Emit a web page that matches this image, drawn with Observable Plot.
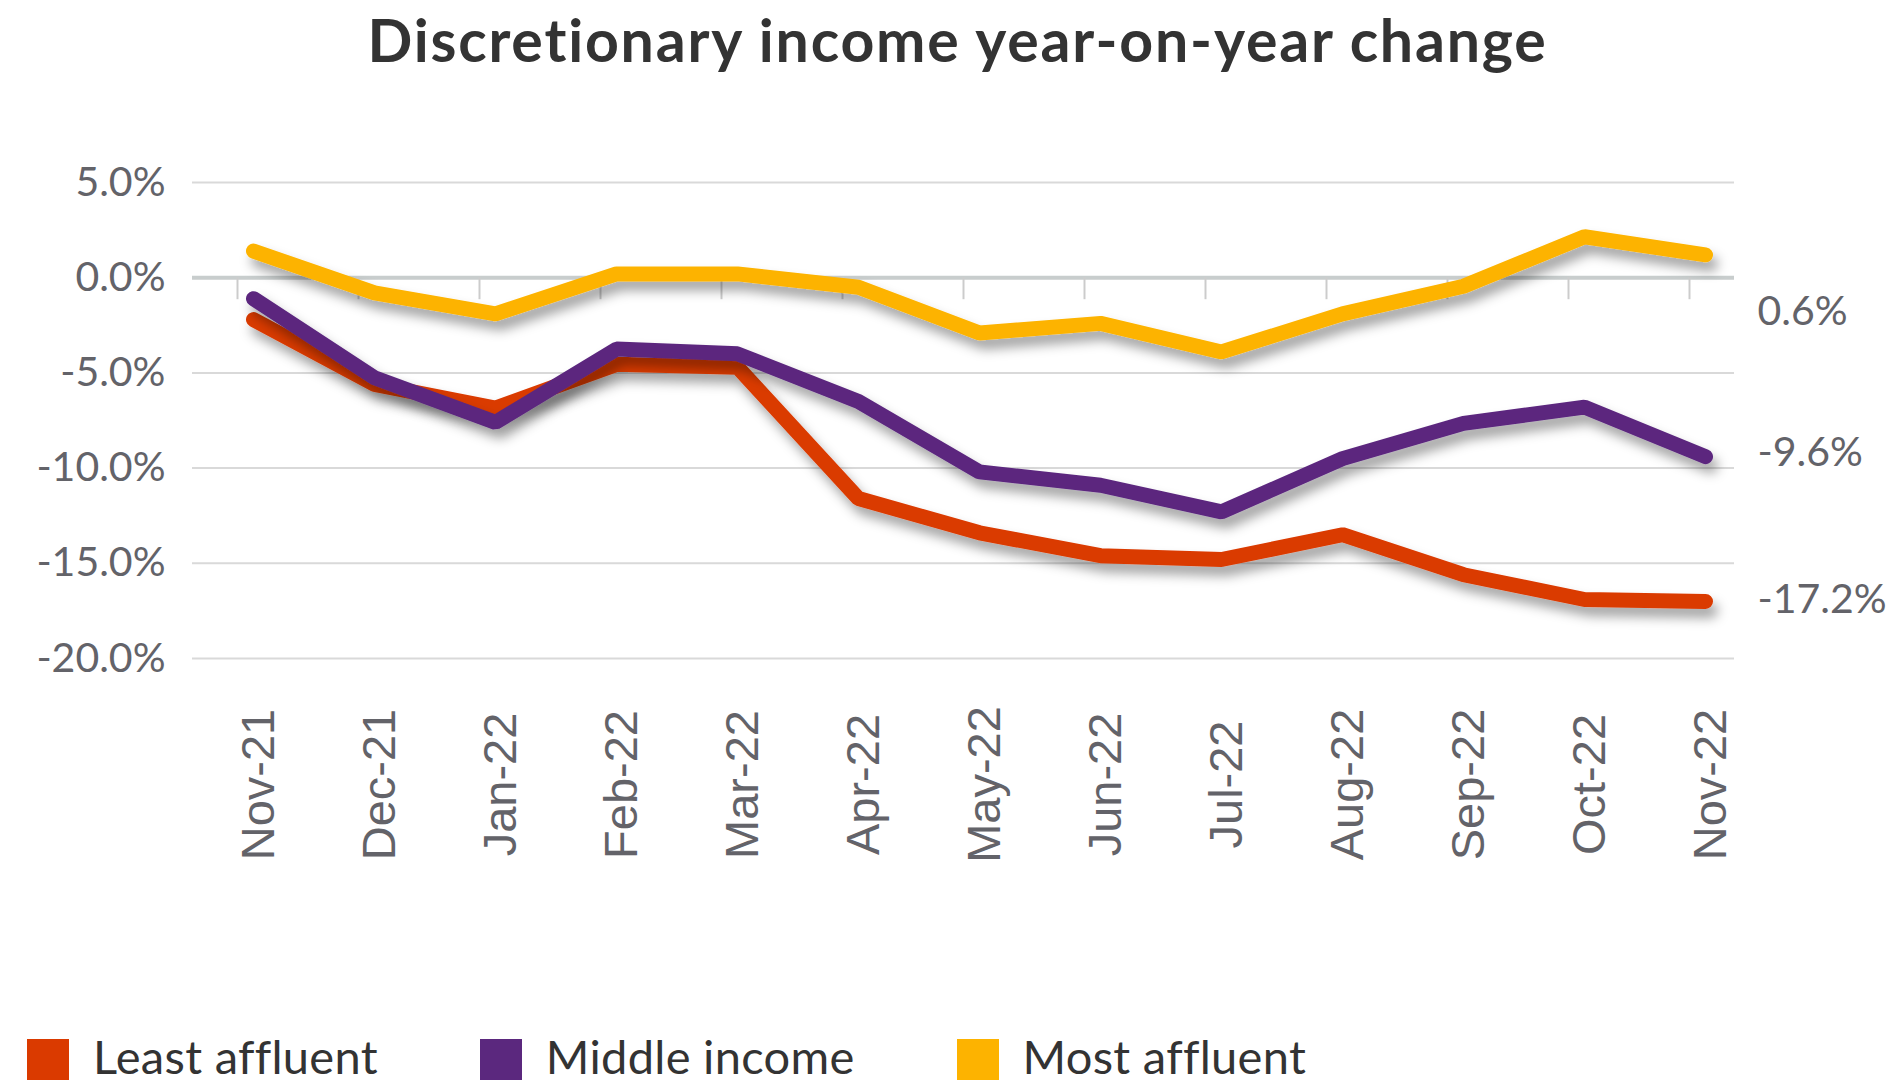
<!DOCTYPE html>
<html>
<head>
<meta charset="utf-8">
<script src="https://cdn.jsdelivr.net/npm/d3@7"></script>
<script src="https://cdn.jsdelivr.net/npm/@observablehq/plot@0.6"></script>
<style>
html,body{margin:0;padding:0;background:#fff;}
#wrap{position:relative;width:1891px;height:1085px;overflow:hidden;font-family:Lato,sans-serif;background:#fff;}
#title{position:absolute;left:0;top:0;width:1891px;box-sizing:border-box;padding-left:24px;height:80px;line-height:80px;text-align:center;font-weight:700;font-size:59px;letter-spacing:1.8px;color:#333;white-space:nowrap;}
#chart{position:absolute;left:0;top:90px;}
#legend{position:absolute;left:27px;top:1030px;height:52px;display:flex;align-items:center;}
.item{display:flex;align-items:center;margin-right:102px;}
.sw{width:42px;height:41px;margin-right:24px;margin-top:6px;}
.lab{font-size:47px;letter-spacing:0.3px;color:#333;line-height:52px;white-space:nowrap;}
</style>
</head>
<body>
<div id="wrap">
  <div id="title">Discretionary income year-on-year change</div>
  <div id="chart"></div>
  <div id="legend"></div>
</div>
<script>
const months = ["Nov-21","Dec-21","Jan-22","Feb-22","Mar-22","Apr-22","May-22","Jun-22","Jul-22","Aug-22","Sep-22","Oct-22","Nov-22"];
const seriesNames = ["Least affluent","Middle income","Most affluent"];
const seriesColors = ["#DA3A00","#5B287E","#FDB300"];
const leastAffluent = [-2.2, -5.6, -6.85, -4.55, -4.7, -11.6, -13.4, -14.6, -14.8, -13.5, -15.6, -16.9, -17.0];
const middleIncome  = [-1.1, -5.25, -7.6, -3.75, -4.0, -6.5, -10.2, -10.9, -12.3, -9.5, -7.65, -6.8, -9.4];
const mostAffluent  = [1.4, -0.8, -1.9, 0.2, 0.2, -0.5, -2.9, -2.4, -3.9, -1.9, -0.45, 2.15, 1.2];
const endLabels = ["-17.2%", "-9.6%", "0.6%"];
const yTicks = [5, 0, -5, -10, -15, -20];

const values = [leastAffluent, middleIncome, mostAffluent];
const data = seriesNames.flatMap((s, i) => months.map((m, j) => ({series: s, month: m, value: values[i][j]})));
const lastIdx = months.length - 1;
const last = seriesNames.map((s, i) => ({series: s, month: months[lastIdx], value: values[i][lastIdx], label: endLabels[i]}));
const labelDy = {"Least affluent": -2, "Middle income": -4, "Most affluent": 57};

const gray = "#636369";

const marks = [
  Plot.ruleY(yTicks.filter(d => d !== 0), {y: d => d, stroke: "#d9d9d9", strokeWidth: 2}),
  Plot.ruleY([0], {y: d => d, stroke: "#c8cdcd", strokeWidth: 4}),
  Plot.ruleX(months, {x: d => d, y1: 0, y2: 0, insetBottom: -22, dx: -16, stroke: "#cccccc", strokeWidth: 2}),
  Plot.text(yTicks, {y: d => d, text: d => d.toFixed(1) + "%", frameAnchor: "left", textAnchor: "end", dx: -27, fontSize: 41, fill: gray}),
  Plot.text(months, {x: d => d, text: d => d, frameAnchor: "bottom", dy: 126, dx: 5, rotate: -90, textAnchor: "middle", lineAnchor: "middle", fontSize: 47, fontFamily: "Liberation Sans, Arial, sans-serif", fill: gray}),
  Plot.line(data, {x: "month", y: "value", z: "series", stroke: "series", strokeWidth: 15, strokeLinecap: "round", strokeLinejoin: "miter"}),
  ...seriesNames.map(s => Plot.text(last.filter(d => d.series === s), {x: "month", y: "value", text: "label", dx: 52, dy: labelDy[s], textAnchor: "start", fontSize: 41, fill: gray}))
];

const chart = Plot.plot({
  width: 1891,
  height: 900,
  marginTop: 92,
  marginBottom: 332,
  marginLeft: 192,
  marginRight: 157,
  x: {type: "point", domain: months, range: [250, 1708], padding: 0, axis: null},
  y: {domain: [-20, 5], axis: null},
  color: {domain: seriesNames, range: seriesColors},
  style: {fontFamily: "Lato, sans-serif", background: "white", overflow: "visible"},
  marks
});

const svg = d3.select(chart);
const defs = svg.insert("defs", ":first-child");
defs.append("filter").attr("id", "shadow")
  .attr("x", "-20%").attr("y", "-40%").attr("width", "140%").attr("height", "200%")
  .append("feDropShadow").attr("dx", 5).attr("dy", 9).attr("stdDeviation", 6)
  .attr("flood-color", "#000").attr("flood-opacity", 0.36);
svg.selectAll('g[aria-label="line"] path').attr("filter", "url(#shadow)");

document.getElementById("chart").appendChild(chart);

const legend = d3.select("#legend");
seriesNames.forEach((s, i) => {
  const it = legend.append("div").attr("class", "item");
  it.append("div").attr("class", "sw").style("background", seriesColors[i]);
  it.append("div").attr("class", "lab").text(s);
});
</script>
</body>
</html>
